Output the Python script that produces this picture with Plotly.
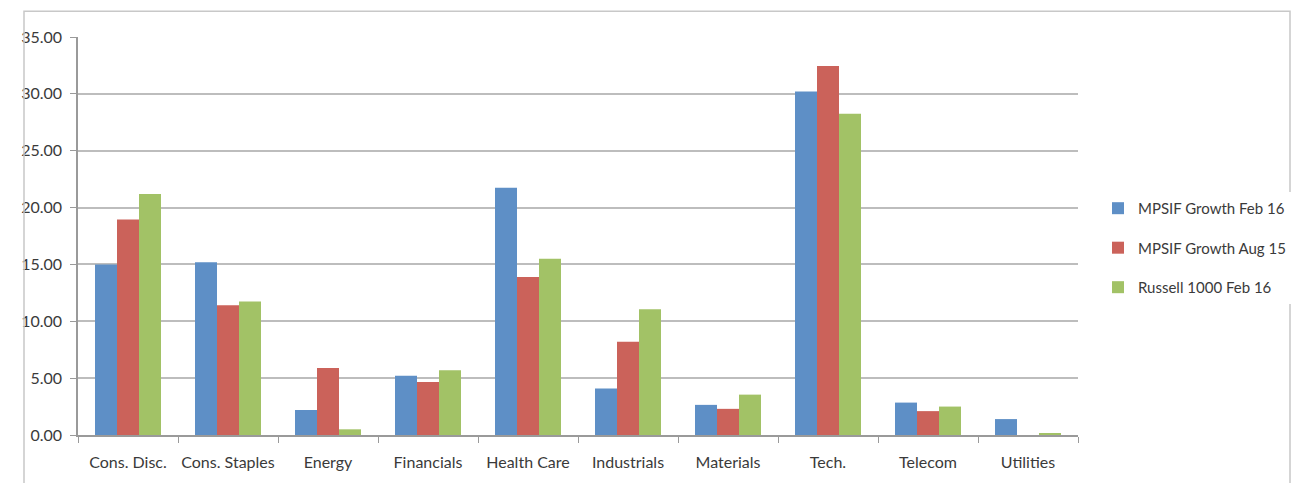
import plotly.graph_objects as go

sectors = ["Cons. Disc.", "Cons. Staples", "Energy", "Financials", "Health Care",
           "Industrials", "Materials", "Tech.", "Telecom", "Utilities"]
growth_feb16 = [15.0, 15.2, 2.2, 5.2, 21.75, 4.1, 2.65, 30.2, 2.85, 1.4]
growth_aug15 = [18.95, 11.4, 5.9, 4.65, 13.9, 8.2, 2.3, 32.45, 2.1, 0.0]
russell_feb16 = [21.2, 11.75, 0.5, 5.7, 15.5, 11.05, 3.55, 28.25, 2.5, 0.1]
y_ticks = [0, 5, 10, 15, 20, 25, 30, 35]

series = [
    ("MPSIF Growth Feb 16", growth_feb16, "#5e8fc6"),
    ("MPSIF Growth Aug 15", growth_aug15, "#cb625a"),
    ("Russell 1000 Feb 16", russell_feb16, "#a2c266"),
]

fig = go.Figure()
for name, vals, color in series:
    fig.add_trace(go.Bar(x=sectors, y=vals, name=name, legendgroup=name,
                         marker=dict(color=color, line=dict(width=0))))

font = "Lato, 'Open Sans', sans-serif"
fig.update_layout(
    width=1304, height=483,
    margin=dict(l=78, r=226, t=37, b=48),
    paper_bgcolor="white", plot_bgcolor="white",
    barmode="group", bargap=0.34, bargroupgap=0,
    font=dict(family=font, size=16, color="#3a3a3a"),
    legend=dict(x=1.02, y=0.47, xanchor="left", yanchor="middle",
                traceorder="grouped", tracegroupgap=17,
                font=dict(size=15, color="#3a3a3a"),
                itemwidth=30),
    xaxis=dict(showline=True, linecolor="#9a9a9a", linewidth=1.5,
               ticks="outside", tickson="boundaries", ticklen=6,
               tickcolor="#9a9a9a", showgrid=False,
               tickangle=0, automargin=False,
               ticklabelstandoff=12,
               tickfont=dict(size=16)),
    yaxis=dict(range=[0, 35], tickvals=y_ticks,
               ticktext=[f"{v:.2f}" for v in y_ticks],
               showline=True, linecolor="#9a9a9a", linewidth=1.5,
               ticks="outside", ticklen=6, tickcolor="#9a9a9a",
               showgrid=True, gridcolor="#bdbdbd", gridwidth=1.5,
               zeroline=False, ticklabelstandoff=5, automargin=False,
               tickfont=dict(size=16)),
    shapes=[dict(type="rect", xref="paper", yref="paper",
                 x0=-0.054, x1=1.212, y0=-0.2, y1=1.065,
                 line=dict(color="#c8c8c8", width=1.5))],
)

fig.write_html("out.html")
